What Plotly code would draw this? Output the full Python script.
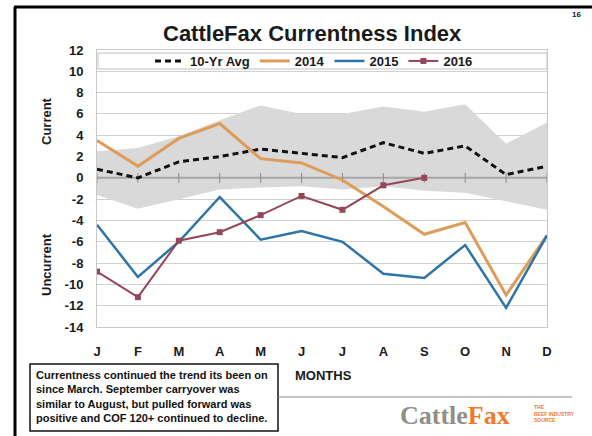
import plotly.graph_objects as go

months = ['Jan', 'Feb', 'Mar', 'Apr', 'May', 'Jun', 'Jul', 'Aug', 'Sep', 'Oct', 'Nov', 'Dec']
month_letters = ['J', 'F', 'M', 'A', 'M', 'J', 'J', 'A', 'S', 'O', 'N', 'D']
avg_10yr = [0.8, 0.0, 1.5, 2.0, 2.7, 2.3, 1.9, 3.3, 2.3, 3.0, 0.3, 1.1]
band_upper = [2.5, 2.8, 3.9, 5.4, 6.8, 6.0, 6.0, 6.7, 6.2, 6.9, 3.2, 5.2]
band_lower = [-1.6, -2.9, -2.0, -1.1, -0.9, -0.8, -1.1, -0.8, -1.2, -1.4, -2.2, -3.0]
y2014 = [3.5, 1.1, 3.7, 5.1, 1.8, 1.4, -0.2, -2.7, -5.3, -4.2, -11.0, -5.4]
y2015 = [-4.4, -9.3, -6.0, -1.8, -5.8, -5.0, -6.0, -9.0, -9.4, -6.3, -12.2, -5.4]
y2016 = [-8.8, -11.2, -5.9, -5.1, -3.5, -1.7, -3.0, -0.7, 0.0]
zero_line = [0] * len(months)
y_ticks = list(range(-14, 13, 2))

FONT = 'Liberation Sans, Arial, sans-serif'

fig = go.Figure()
fig.add_trace(go.Scatter(x=months, y=band_lower, mode='lines', line=dict(width=0, color='#d9d9d9'),
                         showlegend=False, hoverinfo='skip'))
fig.add_trace(go.Scatter(x=months, y=band_upper, mode='lines', line=dict(width=0, color='#d9d9d9'),
                         fill='tonexty', fillcolor='#d9d9d9', showlegend=False, hoverinfo='skip'))
fig.add_trace(go.Scatter(x=months, y=zero_line, mode='lines+markers',
                         line=dict(color='#a6a6a6', width=2),
                         marker=dict(symbol='line-ns', size=7, line=dict(color='#8c8c8c', width=1)),
                         showlegend=False, hoverinfo='skip'))
fig.add_trace(go.Scatter(x=months, y=avg_10yr, mode='lines', name='10-Yr Avg',
                         line=dict(color='#111111', width=3, dash='6px,4px')))
fig.add_trace(go.Scatter(x=months, y=y2014, mode='lines', name='2014',
                         line=dict(color='#DE9C5A', width=3)))
fig.add_trace(go.Scatter(x=months, y=y2015, mode='lines', name='2015',
                         line=dict(color='#2F74A6', width=2.5)))
fig.add_trace(go.Scatter(x=months[:len(y2016)], y=y2016, mode='lines+markers', name='2016',
                         line=dict(color='#96465A', width=2),
                         marker=dict(symbol='square', size=6, color='#96465A')))

W, H = 592, 436
L, R, T, B = 97, 45, 50, 109
PW, PH = W - L - R, H - T - B


def px(x):
    return (x - L) / PW


def py(y):
    return (H - B - y) / PH


def note(text, x, y, size, color='#1a1a1a', family=FONT, **kw):
    d = dict(text=text, xref='paper', yref='paper', x=px(x), y=py(y), showarrow=False,
             xanchor='center', yanchor='middle', font=dict(size=size, family=family, color=color))
    d.update(kw)
    return d


fig.update_layout(
    width=W, height=H,
    margin=dict(l=L, r=R, t=T, b=B),
    paper_bgcolor='white', plot_bgcolor='white',
    font=dict(family=FONT, color='#1a1a1a'),
    showlegend=True,
    legend=dict(orientation='h', x=px(314), xanchor='center', y=py(61), yanchor='middle',
                traceorder='normal',
                bgcolor='rgba(0,0,0,0)', font=dict(size=13, weight='bold', family=FONT),
                itemwidth=30, tracegroupgap=0),
    xaxis=dict(type='category', categoryorder='array', categoryarray=months,
               tickvals=months, ticktext=month_letters, range=[0, 11],
               showgrid=False, zeroline=False, showline=True, linecolor='#c8c8c8', mirror=True,
               ticks='', ticklabelstandoff=12,
               tickfont=dict(size=13, weight='bold', family=FONT, color='#1a1a1a')),
    yaxis=dict(range=[-14, 12], tickvals=y_ticks, ticktext=[str(v) for v in y_ticks],
               showgrid=True, gridcolor='#d0d0d0', gridwidth=1, zeroline=False,
               showline=True, linecolor='#c8c8c8', mirror=True, ticks='', ticklabelstandoff=10,
               tickfont=dict(size=13, weight='bold', family=FONT, color='#1a1a1a')),
    shapes=[
        dict(type='rect', xref='paper', yref='paper', x0=px(98), x1=px(547), y0=py(69), y1=py(53),
             fillcolor='white', line=dict(color='#bfbfbf', width=1), layer='between'),
        dict(type='rect', xref='paper', yref='paper', x0=px(30), x1=px(278), y0=py(431), y1=py(364),
             fillcolor='white', line=dict(color='#111111', width=1.5)),
        dict(type='line', xref='paper', yref='paper', x0=px(278), x1=px(572), y0=py(397), y1=py(397),
             line=dict(color='#8c8c8c', width=1)),
        dict(type='line', xref='paper', yref='paper', x0=px(15), x1=px(15), y0=py(7), y1=py(440),
             line=dict(color='black', width=3)),
        dict(type='line', xref='paper', yref='paper', x0=px(14), x1=px(600), y0=py(7), y1=py(7),
             line=dict(color='black', width=3)),
    ],
    annotations=[
        note('<b>CattleFax Currentness Index</b>', 312, 33, 22),
        note('<b>16</b>', 576, 15, 8),
        note('<b>Current</b>', 46, 121, 13, textangle=-90),
        note('<b>Uncurrent</b>', 46, 265, 13, textangle=-90),
        note('<b>MONTHS</b>', 323, 375, 13),
        note('<b>Currentness continued the trend its been on<br>since March. September carryover was<br>'
             'similar to August, but pulled forward was<br>positive and COF 120+ continued to decline.</b>',
             34, 396, 11, color='#111111', xanchor='left', align='left'),
        note("<b><span style='color:#8f8f86'>Cattle</span><span style='color:#EE7A2C'>Fax</span></b>",
             455, 415, 26, family='Liberation Serif, serif'),
        note('<b>THE<br>BEEF INDUSTRY<br>SOURCE</b>', 532, 413, 5, color='#EE7A2C',
             xanchor='left', align='left'),
    ],
)

fig.write_html('out.html', config={'displayModeBar': False},
               post_script="document.body.style.margin='0';")
